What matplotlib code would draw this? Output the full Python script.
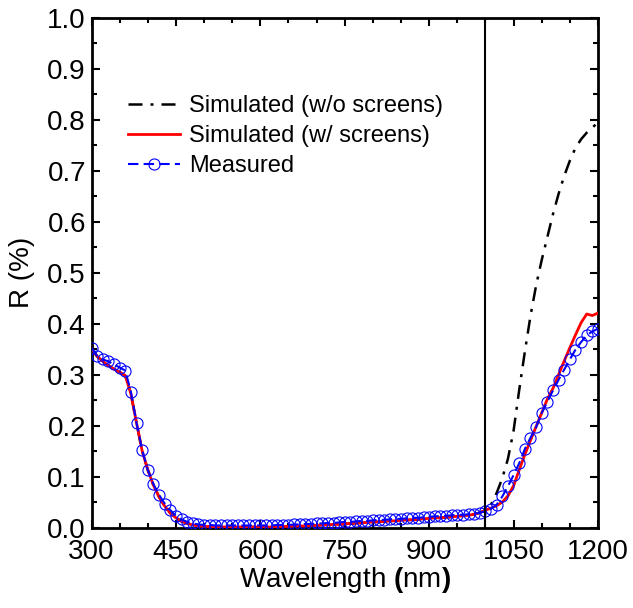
"""
Reflectance spectra: simulated (with / without screens) vs measured.
"""

import numpy as np
import matplotlib
matplotlib.use("Agg")
import matplotlib.pyplot as plt

# ── Data ─────────────────────────────────────────────────────────────────────

wavelength = np.arange(300, 1201, 10)

sim_screens = [
    0.350, 0.336, 0.326, 0.318, 0.311, 0.305, 0.298, 0.262, 0.205, 0.150,   # 300-390
    0.113, 0.083, 0.060, 0.042, 0.028, 0.019, 0.012, 0.008, 0.005, 0.003,   # 400-490
    0.002, 0.002, 0.001, 0.001, 0.001, 0.001, 0.001, 0.001, 0.001, 0.001,   # 500-590
    0.001, 0.001, 0.001, 0.002, 0.002, 0.002, 0.003, 0.003, 0.003, 0.004,   # 600-690
    0.004, 0.005, 0.005, 0.006, 0.006, 0.007, 0.008, 0.008, 0.009, 0.010,   # 700-790
    0.011, 0.011, 0.012, 0.013, 0.013, 0.014, 0.015, 0.015, 0.016, 0.017,   # 800-890
    0.018, 0.019, 0.019, 0.020, 0.021, 0.022, 0.023, 0.024, 0.026, 0.029,   # 900-990
    0.034, 0.038, 0.043, 0.050, 0.062, 0.082, 0.113, 0.143, 0.171, 0.198,   # 1000-1090
    0.225, 0.252, 0.273, 0.300, 0.327, 0.353, 0.378, 0.402, 0.419, 0.416,   # 1100-1190
    0.421,                                                                  # 1200
]

# w/o screens follows the screened curve up to 1000 nm, then rises
sim_no_screens_tail = [
    0.045, 0.068, 0.097, 0.135, 0.190, 0.270, 0.345, 0.415, 0.475,          # 1010-1090
    0.525, 0.570, 0.615, 0.655, 0.690, 0.720, 0.745, 0.762, 0.775, 0.785,   # 1100-1190
    0.795,                                                                  # 1200
]

measured = [
    0.353, 0.336, 0.330, 0.326, 0.320, 0.314, 0.308, 0.266, 0.205, 0.152,   # 300-390
    0.113, 0.085, 0.064, 0.047, 0.034, 0.023, 0.016, 0.011, 0.008, 0.006,   # 400-490
    0.005, 0.005, 0.004, 0.004, 0.004, 0.004, 0.004, 0.004, 0.004, 0.004,   # 500-590
    0.004, 0.004, 0.004, 0.005, 0.005, 0.005, 0.006, 0.006, 0.007, 0.007,   # 600-690
    0.008, 0.008, 0.009, 0.009, 0.010, 0.011, 0.011, 0.012, 0.013, 0.013,   # 700-790
    0.014, 0.015, 0.015, 0.016, 0.017, 0.017, 0.018, 0.019, 0.019, 0.020,   # 800-890
    0.021, 0.022, 0.022, 0.023, 0.024, 0.025, 0.025, 0.026, 0.027, 0.029,   # 900-990
    0.032, 0.037, 0.045, 0.061, 0.081, 0.103, 0.126, 0.154, 0.176, 0.197,   # 1000-1090
    0.225, 0.247, 0.269, 0.290, 0.310, 0.330, 0.349, 0.364, 0.377, 0.385,   # 1100-1190
    0.390,                                                                  # 1200
]

sim_no_screens = sim_screens[:71] + sim_no_screens_tail

labels = ["Simulated (w/o screens)", "Simulated (w/ screens)", "Measured"]

# ── Style ────────────────────────────────────────────────────────────────────

plt.rcParams["font.family"] = ["Liberation Sans", "DejaVu Sans"]
plt.rcParams["mathtext.fontset"] = "custom"
plt.rcParams["mathtext.rm"] = "Liberation Sans"
plt.rcParams["mathtext.bf"] = "Liberation Sans:bold"


def plot():
    fig = plt.figure(figsize=(6.33, 6.08), dpi=100)
    ax = fig.add_axes([0.1446, 0.1324, 0.8001, 0.838])

    ax.plot(wavelength, sim_no_screens, color="black", lw=1.8,
            linestyle=(0, (5.6, 3.2, 1.2, 3.2)), label=labels[0], zorder=2)
    ax.plot(wavelength, sim_screens, color="red", lw=2.0,
            label=labels[1], zorder=3)
    ax.plot(wavelength, measured, color="blue", lw=1.5,
            linestyle=(0, (5, 2.5)), marker="o", markersize=8,
            markerfacecolor="none", markeredgecolor="blue", markeredgewidth=0.8,
            label=labels[2], zorder=4)

    ax.axvline(1000, color="black", lw=1.5, zorder=5)

    ax.set_xlim(300, 1200)
    ax.set_ylim(0, 1.0)
    ax.set_xticks(np.arange(300, 1201, 150))
    ax.set_xticks(np.arange(300, 1201, 50), minor=True)
    ax.set_yticks(np.arange(0, 1.01, 0.1))
    ax.set_yticks(np.arange(0, 1.01, 0.05), minor=True)
    ax.yaxis.set_major_formatter(matplotlib.ticker.FormatStrFormatter("%.1f"))

    ax.tick_params(which="both", direction="in", top=True, right=True, width=1.5)
    ax.tick_params(which="major", length=6, labelsize=20)
    ax.tick_params(axis="x", which="major", pad=8)
    ax.tick_params(axis="y", which="major", pad=4)
    ax.tick_params(which="minor", length=3.5)
    for s in ax.spines.values():
        s.set_linewidth(2)

    ax.set_xlabel(r"Wavelength $\mathbf{(}$nm$\mathbf{)}$", fontsize=20, labelpad=0)
    ax.set_ylabel("R (%)", fontsize=20, labelpad=9)

    ax.legend(loc="upper left", bbox_to_anchor=(0.072, 0.848), frameon=False,
              fontsize=17, handlelength=2.2, handletextpad=0.4,
              labelspacing=0.33, borderpad=0, borderaxespad=0)

    fig.savefig("out.png", dpi=100)
    plt.close(fig)


if __name__ == "__main__":
    plot()
